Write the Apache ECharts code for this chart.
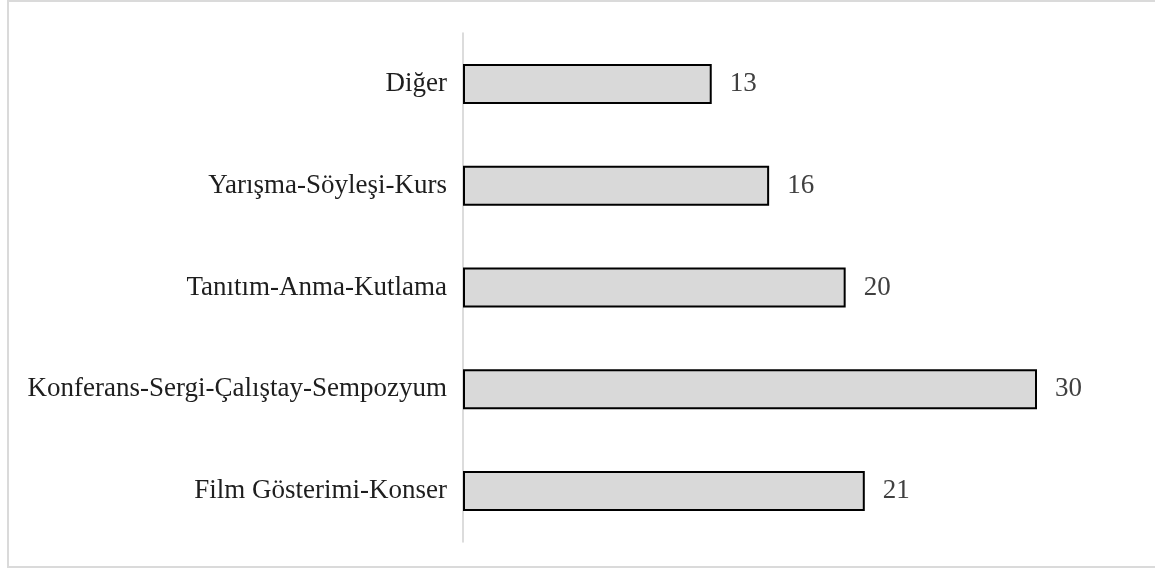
<!DOCTYPE html>
<html>
<head>
<meta charset="utf-8">
<script src="https://cdn.jsdelivr.net/npm/echarts@6/dist/echarts.min.js"></script>
<style>
  html, body { margin: 0; padding: 0; background: #fff; }
  #main { width: 1155px; height: 569px; }
</style>
</head>
<body>
<div id="main"></div>
<script>
// kategoriler (aşağıdan yukarıya)
var categories = [
  "Film Gösterimi-Konser",
  "Konferans-Sergi-Çalıştay-Sempozyum",
  "Tanıtım-Anma-Kutlama",
  "Yarışma-Söyleşi-Kurs",
  "Diğer"
];
var values = [21, 30, 20, 16, 13];

var myChart = echarts.init(document.getElementById("main"));
myChart.setOption({
  backgroundColor: "#fff",
  animation: false,
  graphic: [
    {
      type: "rect",
      shape: { x: 8, y: 1, width: 1160, height: 566 },
      style: { fill: "none", stroke: "#dadada", lineWidth: 2 },
      silent: true
    }
  ],
  grid: { left: 463, right: 118, top: 33, bottom: 27 },
  xAxis: {
    type: "value",
    min: 0,
    max: 30,
    show: false
  },
  yAxis: {
    type: "category",
    data: categories,
    axisLine: { show: true, lineStyle: { color: "#d0d0d0", width: 1.5 } },
    axisTick: { show: false },
    axisLabel: {
      margin: 16,
      color: "#1e1e1e",
      fontFamily: "Liberation Serif",
      fontSize: 27
    }
  },
  series: [
    {
      type: "bar",
      data: values,
      barWidth: 40,
      itemStyle: { color: "#d9d9d9", borderColor: "#000", borderWidth: 2 },
      label: {
        show: true,
        position: "right",
        distance: 18,
        color: "#404040",
        fontFamily: "Liberation Serif",
        fontSize: 27
      }
    }
  ]
});
</script>
</body>
</html>
